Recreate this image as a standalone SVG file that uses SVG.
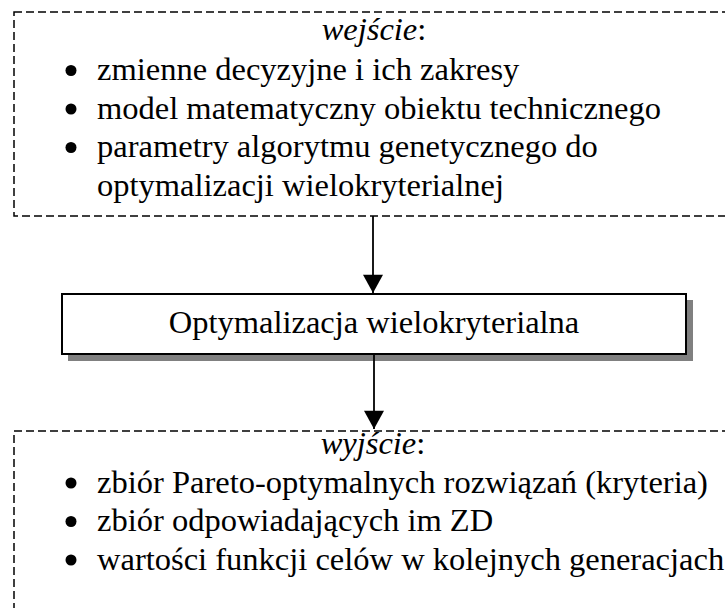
<svg xmlns="http://www.w3.org/2000/svg" width="725" height="608" viewBox="0 0 725 608">
  <style>
    text { font-family: 'Liberation Serif', 'Times New Roman', Times, serif; font-size: 32.5px; fill: #000; }
    .c { text-anchor: middle; }
    .it { font-style: italic; }
    .dash { fill: none; stroke: #000; stroke-width: 1.5; stroke-dasharray: 8 4; }
    .box { fill: #fff; stroke: #000; stroke-width: 2; }
    .shadow { fill: #808080; }
    .wire { stroke: #000; stroke-width: 1.8; fill: none; }
    .bullet { fill: #000; }
  </style>
  <defs>
    <marker id="arrow" markerUnits="userSpaceOnUse" markerWidth="22" markerHeight="20" refX="20" refY="11" orient="auto" viewBox="0 0 20 22">
      <path d="M0,0 L20,11 L0,22 Z" fill="#000"/>
    </marker>
  </defs>
  <rect width="725" height="608" fill="#fff"/>

  <!-- input panel -->
  <g id="input">
    <rect class="dash" x="14" y="12" width="740" height="204"/>
    <text class="c" x="374" y="40"><tspan class="it">wejście</tspan>:</text>
    <circle class="bullet" cx="71" cy="70.5" r="5.5"/>
    <circle class="bullet" cx="71" cy="109" r="5.5"/>
    <circle class="bullet" cx="71" cy="147.5" r="5.5"/>
    <text x="97" y="80">zmienne decyzyjne i ich zakresy</text>
    <text x="97" y="118.5">model matematyczny obiektu technicznego</text>
    <text x="97" y="157">parametry algorytmu genetycznego do</text>
    <text x="97" y="195.5">optymalizacji wielokryterialnej</text>
  </g>

  <!-- process box -->
  <g id="process">
    <rect class="shadow" x="68" y="300" width="625" height="61"/>
    <rect class="box" x="62" y="294" width="624" height="60"/>
    <text class="c" x="374" y="333">Optymalizacja wielokryterialna</text>
  </g>

  <!-- output panel -->
  <g id="output">
    <rect class="dash" x="14" y="431" width="740" height="220"/>
    <text class="c" x="373" y="454"><tspan class="it">wyjście</tspan>:</text>
    <circle class="bullet" cx="71" cy="483" r="5.5"/>
    <circle class="bullet" cx="71" cy="521.5" r="5.5"/>
    <circle class="bullet" cx="71" cy="560" r="5.5"/>
    <text x="97" y="492.5">zbiór Pareto-optymalnych rozwiązań (kryteria)</text>
    <text x="97" y="531">zbiór odpowiadających im ZD</text>
    <text x="97" y="569.5">wartości funkcji celów w kolejnych generacjach</text>
  </g>

  <!-- connectors -->
  <g id="connectors">
    <line class="wire" x1="373" y1="216" x2="373" y2="293" marker-end="url(#arrow)"/>
    <line class="wire" x1="374" y1="355" x2="374" y2="429" marker-end="url(#arrow)"/>
  </g>
</svg>
